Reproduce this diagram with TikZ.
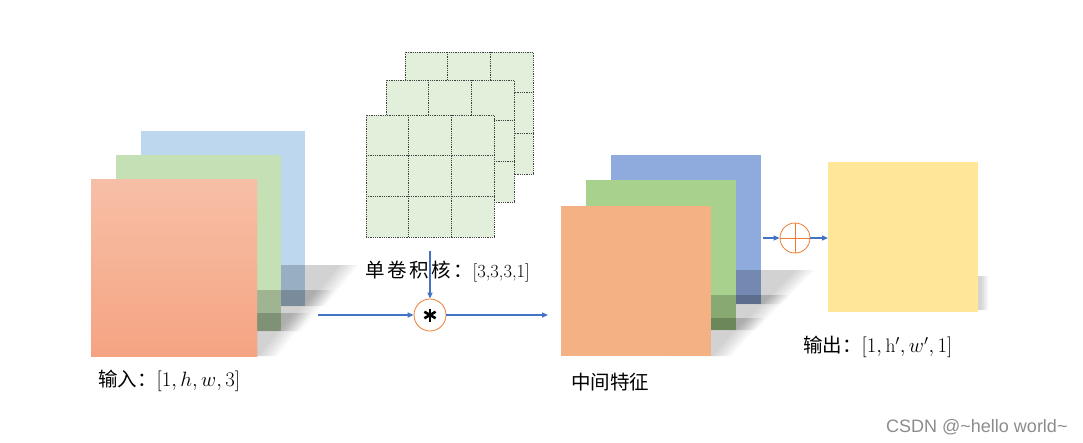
\documentclass[tikz,border=0pt]{standalone}
\usepackage{fontspec}
\newfontfamily\cjkfont{Noto Sans CJK SC}
\newfontfamily\wmfont{Liberation Sans}
\usetikzlibrary{arrows.meta,calc}
\definecolor{inblue}{HTML}{BDD7EE}
\definecolor{ingreen}{HTML}{C5E0B4}
\definecolor{inpeachT}{HTML}{F7BFA7}
\definecolor{inpeachB}{HTML}{F5A482}
\definecolor{midblue}{HTML}{8FAADC}
\definecolor{midgreen}{HTML}{A9D18E}
\definecolor{midorange}{HTML}{F4B183}
\definecolor{outyellow}{HTML}{FFE699}
\definecolor{kgreen}{HTML}{E2EFDA}
\definecolor{ablue}{HTML}{4472C4}
\definecolor{corange}{HTML}{ED7D31}
\newcommand{\lblsize}{\fontsize{19.5}{22}\selectfont}
\newcommand{\kersize}{\fontsize{18.5}{22}\selectfont}
\newcommand{\wmsize}{\wmfont\fontsize{18}{20}\selectfont}
\newcommand{\dropshadow}[2]{%
  \foreach \e in {0,3,...,18}{
    \fill[shd] (#1.south east) ++(-40,-#2) -- ++(93-\e,0) -- ++(-33,#2) -- ++(-60+\e,0) -- cycle;
  }}
\begin{document}
\begin{tikzpicture}[x=1pt,y=-1pt,
  sq/.style={rectangle,draw=none,inner sep=0pt,outer sep=0pt,anchor=north west},
  shd/.style={fill=black,opacity=0.028},
  kgrid/.style={rectangle,draw=black!75,dash pattern=on 0.9pt off 0.9pt,line width=0.7pt,fill=kgreen,
    minimum width=128pt,minimum height=122pt,inner sep=0pt,outer sep=0pt,anchor=north west},
  kline/.style={draw=black!75,dash pattern=on 0.9pt off 0.9pt,line width=0.7pt},
  arr/.style={draw=ablue,line width=1.3pt,-{Triangle[length=6pt,width=5pt]}},
  lbl/.style={anchor=west,inner sep=0pt,font=\lblsize},
  opc/.style={circle,draw=corange,line width=0.8pt,fill=white,inner sep=0pt}]
\useasboundingbox (0,0) rectangle (1083,442);

% ---------- input stack ----------
\node[sq,fill=inblue,minimum width=164pt,minimum height=175pt] (inB) at (141,131) {};
\dropshadow{inB}{41}
\node[sq,fill=ingreen,minimum width=165pt,minimum height=176pt] (inG) at (116,155) {};
\dropshadow{inG}{41}
\node[sq,top color=inpeachT,bottom color=inpeachB,minimum width=166pt,minimum height=177pt] (inO) at (91,179) {};
\dropshadow{inO}{43}
\node[sq,top color=inpeachT,bottom color=inpeachB,minimum width=166pt,minimum height=177pt] (inO2) at (91,179) {};

% ---------- kernels ----------
\foreach \n/\px/\py in {k3/405/52,k2/386/80,k1/366/115}{
  \node[kgrid] (\n) at (\px,\py) {};
  \foreach \f in {0.3333,0.6667}{
    \draw[kline] ($(\n.north west)!\f!(\n.north east)$) -- ($(\n.south west)!\f!(\n.south east)$);
    \draw[kline] ($(\n.north west)!\f!(\n.south west)$) -- ($(\n.north east)!\f!(\n.south east)$);
  }
}

% ---------- middle stack ----------
\node[sq,fill=midblue,minimum width=150pt,minimum height=149pt] (mB) at (611,155) {};
\dropshadow{mB}{34}
\node[sq,fill=midgreen,minimum width=150pt,minimum height=150pt] (mG) at (586,180) {};
\dropshadow{mG}{35}
\node[sq,fill=midorange,minimum width=150pt,minimum height=150pt] (mO) at (561,206) {};
\dropshadow{mO}{38}
\node[sq,fill=midorange,minimum width=150pt,minimum height=150pt] (mO2) at (561,206) {};

% ---------- output ----------
\node[sq,fill=outyellow,minimum width=150pt,minimum height=150pt] (out) at (828,162) {};
\foreach \e in {0,2,4,6}{
  \fill[black,opacity=0.045] (out.south east) ++(0,-36) rectangle ++(10-\e,34);
}

% ---------- operators ----------
\node[opc,minimum size=32pt] (conv) at (430,315) {};
\foreach \ang in {90,30,150}{
  \draw[black,line width=2.6pt] (conv.center) ++(\ang:6.5) -- ++(\ang+180:13);
}
\node[opc,minimum size=30pt] (plus) at (795,238) {};
\draw[corange,line width=0.8pt] (plus.north) -- (plus.south) (plus.west) -- (plus.east);

% ---------- labels ----------
\node[lbl] (linput) at (98,381) {{\cjkfont 输入：}$[1,h,w,3]$};
\node[lbl] (lkernel) at (365,272) {{\cjkfont 单\kern2.5pt 卷\kern2.5pt 积\kern2.5pt 核\kern2.5pt ：}{\kersize [3,3,3,1]}};
\node[lbl] (lmid) at (571,382) {{\cjkfont 中间特征}};
\node[lbl] (lout) at (803,347) {{\cjkfont 输出：}$[1,\mathrm{h}',w',1]$};
\node[anchor=west,inner sep=0pt,text=black!45,font=\wmsize] (wm) at (886,427) {CSDN @\textasciitilde hello world\textasciitilde};

% ---------- connectors ----------
\coordinate (a1) at (318,315);
\coordinate (a2) at (548,315);
\coordinate (a3) at (430,251);
\coordinate (a4) at (763,238);
\draw[arr] (a1) -- (conv.west);
\draw[arr] (conv.east) -- (a2);
\draw[arr] (a3) -- (conv.north);
\draw[arr] (a4) -- (plus.west);
\draw[arr] (plus.east) -- (plus.east -| out.west);
\end{tikzpicture}
\end{document}
